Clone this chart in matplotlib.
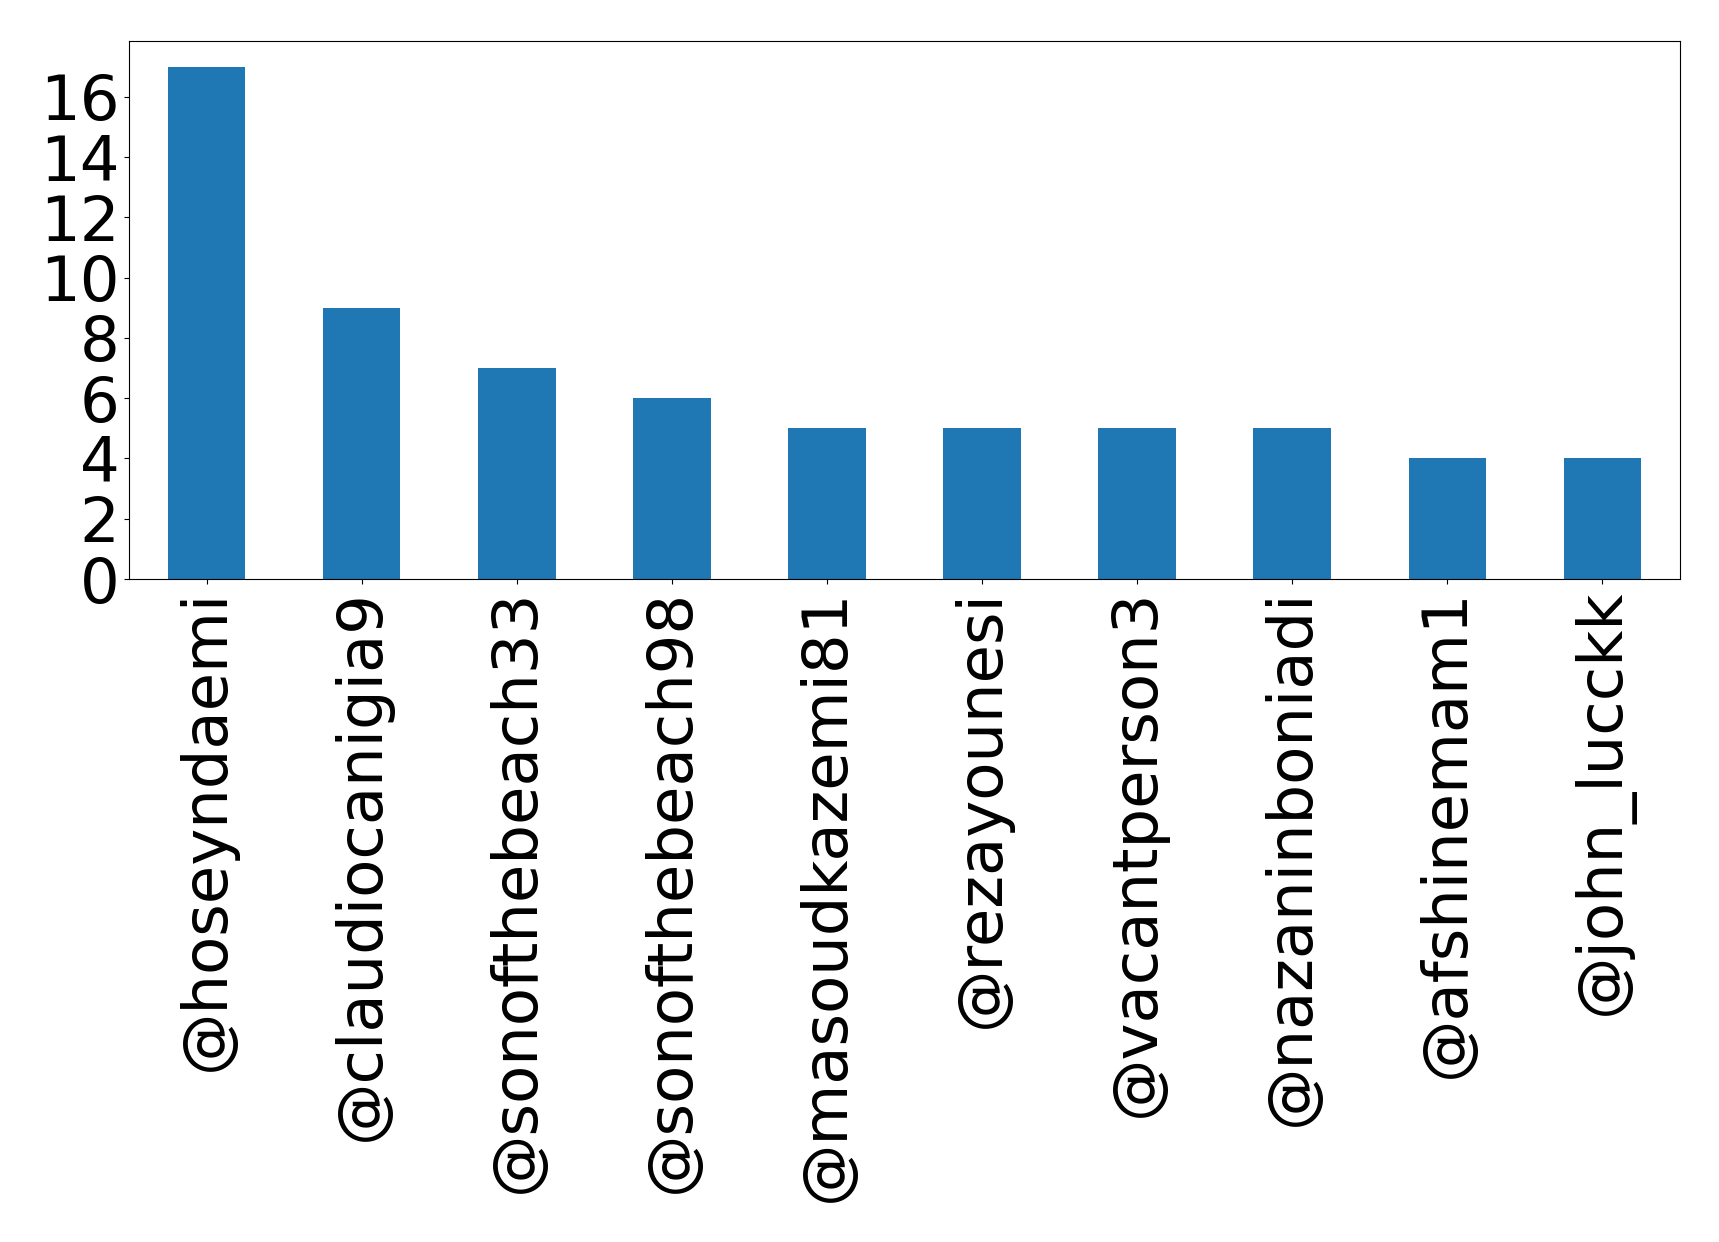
import matplotlib
matplotlib.use("Agg")
import matplotlib.pyplot as plt
import numpy as np

users = ["@hoseyndaemi", "@claudiocanigia9", "@sonofthebeach33", "@sonofthebeach98",
         "@masoudkazemi81", "@rezayounesi", "@vacantperson3", "@nazaninboniadi",
         "@afshinemam1", "@john_lucckk"]
counts = [17, 9, 7, 6, 5, 5, 5, 5, 4, 4]

fig = plt.figure(figsize=(17.19, 12.42), dpi=100)
ax = fig.add_axes([129/1719, 1 - 579/1242, (1680-129)/1719, (579-41)/1242])
x = np.arange(len(users))
ax.bar(x, counts, width=0.5, color="#1f77b4")
ax.set_xlim(-0.5, len(users) - 0.5)
ax.set_ylim(0, max(counts) * 1.05)
ax.set_xticks(x)
ax.set_xticklabels(users, rotation=90, fontsize=45)
ax.set_yticks(range(0, 17, 2))
ax.tick_params(axis="y", labelsize=45)
fig.savefig("out.png", dpi=100)
